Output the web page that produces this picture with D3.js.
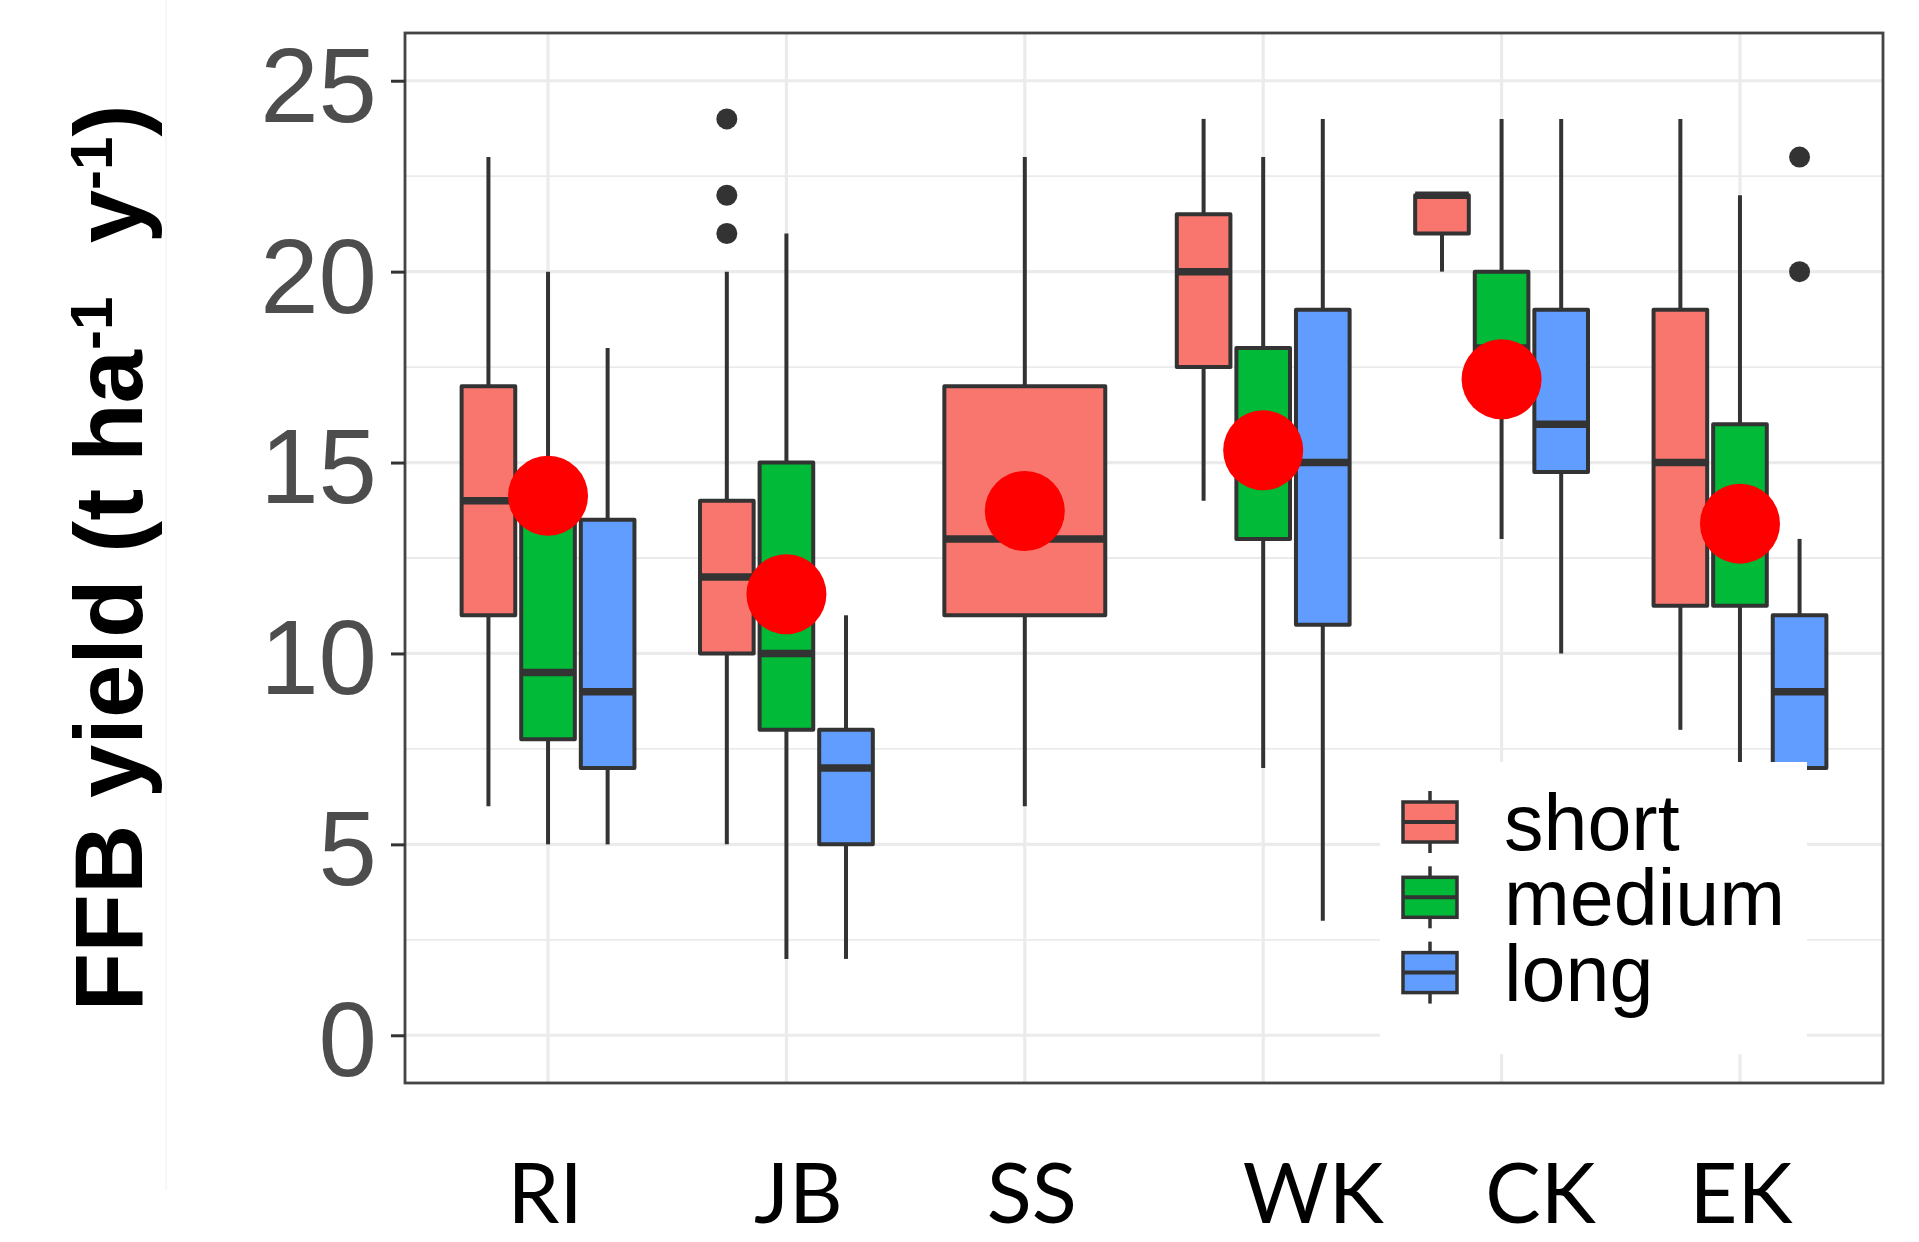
<!DOCTYPE html>
<html>
<head>
<meta charset="utf-8">
<script src="https://cdn.jsdelivr.net/npm/d3@7"></script>
<style>
  body { margin: 0; background: #fff; }
  svg { display: block; }
</style>
</head>
<body>
<div id="chart"></div>
<script>
// sites and rotation length groups
const categories = ["RI", "JB", "SS", "WK", "CK", "EK"];
const groups = ["short", "medium", "long"];
const groupColors = ["#F8766D", "#00BA38", "#619CFF"];

// box stats per site: [lower whisker, Q1, median, Q3, upper whisker], null = no data
const shortStats  = [[6, 11, 14, 17, 23], [5, 10, 12, 14, 20], [6, 11, 13, 17, 23], [14, 17.5, 20, 21.5, 24], [20, 21, 22, 22, 22], [8, 11.25, 15, 19, 24]];
const mediumStats = [[5, 7.75, 9.5, 14, 20], [2, 8, 10, 15, 21], null, [7, 13, 15, 18, 23], [13, 16.5, 18, 20, 24], [5, 11.25, 13, 16, 22]];
const longStats   = [[5, 7, 9, 13.5, 18], [2, 5, 7, 8, 11], null, [3, 10.75, 15, 19, 24], [10, 14.75, 16, 19, 24], [5, 7, 9, 11, 13]];

// outliers per site and group
const shortOutliers  = [[], [24, 22, 21], [], [], [], []];
const mediumOutliers = [[], [], [], [], [], []];
const longOutliers   = [[], [], [], [], [], [23, 20]];

// site mean (red dots)
const siteMeans = [14.13, 11.55, 13.73, 15.32, 17.18, 13.4];

const yTicks = [0, 5, 10, 15, 20, 25];
const yMinor = [2.5, 7.5, 12.5, 17.5, 22.5];

// x label nudges (px), labels were placed by hand in the original
const labelNudge = [-3, 12, 7, 50, 39, 1];

const statsBy = [shortStats, mediumStats, longStats];
const outBy = [shortOutliers, mediumOutliers, longOutliers];

const width = 1919, height = 1242;
const panel = { left: 405, right: 1883, top: 33, bottom: 1083 };
const ink = "#333";

const svg = d3.select("#chart").append("svg")
    .attr("width", width)
    .attr("height", height);

svg.append("rect").attr("width", width).attr("height", height).attr("fill", "#fff");

// faint edge of the pasted figure
svg.append("line")
    .attr("x1", 166).attr("x2", 166).attr("y1", 0).attr("y2", 1190)
    .attr("stroke", "#f4f4f4").attr("stroke-width", 1.5);

const x = d3.scalePoint().domain(categories).range([panel.left, panel.right]).padding(0.6);
const y = d3.scaleLinear().domain([-1.25, 26.25]).range([panel.bottom, panel.top]);
const step = x.step();

//grid
const grid = svg.append("g");
grid.selectAll(".minor").data(yMinor).enter().append("line")
    .attr("x1", panel.left).attr("x2", panel.right)
    .attr("y1", d => y(d)).attr("y2", d => y(d))
    .attr("stroke", "#EBEBEB").attr("stroke-width", 1.8);
grid.selectAll(".major").data(yTicks).enter().append("line")
    .attr("x1", panel.left).attr("x2", panel.right)
    .attr("y1", d => y(d)).attr("y2", d => y(d))
    .attr("stroke", "#EBEBEB").attr("stroke-width", 3.2);
grid.selectAll(".vmajor").data(categories).enter().append("line")
    .attr("x1", d => x(d)).attr("x2", d => x(d))
    .attr("y1", panel.top).attr("y2", panel.bottom)
    .attr("stroke", "#EBEBEB").attr("stroke-width", 3.2);

//build boxes with dodge2 positions
const boxes = [];
categories.forEach((c, ci) => {
    const present = groups.map((g, gi) => gi).filter(gi => statsBy[gi][ci]);
    const n = present.length;
    const slot = 0.75 * step / n;
    present.forEach((gi, k) => {
        const s = statsBy[gi][ci];
        boxes.push({
            cx: x(c) + (k - (n - 1) / 2) * slot,
            w: slot * 0.9,
            lo: s[0], q1: s[1], med: s[2], q3: s[3], hi: s[4],
            color: groupColors[gi],
            out: outBy[gi][ci]
        });
    });
});

const bx = svg.append("g").selectAll("g").data(boxes).enter().append("g");
bx.append("line")
    .attr("x1", d => d.cx).attr("x2", d => d.cx)
    .attr("y1", d => y(d.hi)).attr("y2", d => y(d.q3))
    .attr("stroke", ink).attr("stroke-width", 4);
bx.append("line")
    .attr("x1", d => d.cx).attr("x2", d => d.cx)
    .attr("y1", d => y(d.q1)).attr("y2", d => y(d.lo))
    .attr("stroke", ink).attr("stroke-width", 4);
bx.append("rect")
    .attr("x", d => d.cx - d.w / 2).attr("width", d => d.w)
    .attr("y", d => y(d.q3)).attr("height", d => y(d.q1) - y(d.q3))
    .attr("fill", d => d.color).attr("stroke", ink).attr("stroke-width", 4)
    .attr("stroke-linejoin", "round");
bx.append("line")
    .attr("x1", d => d.cx - d.w / 2).attr("x2", d => d.cx + d.w / 2)
    .attr("y1", d => y(d.med)).attr("y2", d => y(d.med))
    .attr("stroke", ink).attr("stroke-width", 7.5);
bx.selectAll("circle").data(d => d.out.map(v => ({ cx: d.cx, v: v }))).enter().append("circle")
    .attr("cx", d => d.cx).attr("cy", d => y(d.v)).attr("r", 10.5)
    .attr("fill", ink);

//means
svg.append("g").selectAll("circle").data(siteMeans).enter().append("circle")
    .attr("cx", (d, i) => x(categories[i]))
    .attr("cy", d => y(d))
    .attr("r", 40)
    .attr("fill", "#FF0000");

//panel border
svg.append("rect")
    .attr("x", panel.left).attr("y", panel.top)
    .attr("width", panel.right - panel.left).attr("height", panel.bottom - panel.top)
    .attr("fill", "none").attr("stroke", "#444").attr("stroke-width", 2.8);

//y axis
const yAxis = svg.append("g")
    .attr("transform", "translate(" + panel.left + ",0)")
    .call(d3.axisLeft(y).tickValues(yTicks).tickSize(14).tickPadding(14));
yAxis.select(".domain").remove();
yAxis.selectAll(".tick line").attr("stroke", ink).attr("stroke-width", 3);
yAxis.selectAll(".tick text")
    .attr("fill", "#4D4D4D")
    .attr("dy", "0.385em")
    .style("font-family", "'Liberation Sans', Arial, sans-serif")
    .style("font-size", "105px");

//y title
const title = svg.append("text")
    .attr("transform", "translate(142," + (panel.top + panel.bottom) / 2 + ") rotate(-90)")
    .attr("text-anchor", "middle")
    .attr("xml:space", "preserve")
    .style("white-space", "pre")
    .style("font-family", "'Liberation Sans', Arial, sans-serif")
    .style("font-weight", "bold")
    .style("font-size", "96px")
    .attr("fill", "#000");
title.append("tspan").text("FFB yield (t ha");
title.append("tspan").attr("dy", -30).style("font-size", "60px").text("-1");
title.append("tspan").attr("dy", 30).text("  y");
title.append("tspan").attr("dy", -30).style("font-size", "60px").text("-1");
title.append("tspan").attr("dy", 30).text(")");

//x labels
svg.append("g").selectAll("text").data(categories).enter().append("text")
    .attr("x", (d, i) => x(d) + labelNudge[i])
    .attr("y", 1223)
    .attr("text-anchor", "middle")
    .style("font-family", "Lato, 'Open Sans', sans-serif")
    .style("font-size", "83px")
    .attr("fill", "#000")
    .text(d => d);

//legend
const legend = svg.append("g");
legend.append("rect")
    .attr("x", 1380).attr("y", 762).attr("width", 427).attr("height", 292)
    .attr("fill", "#fff");
const rows = legend.selectAll(".row").data(groups).enter().append("g")
    .attr("transform", (d, i) => "translate(1430," + (822 + i * 75.3) + ")");
rows.append("line").attr("x1", 0).attr("x2", 0).attr("y1", -31).attr("y2", 31)
    .attr("stroke", ink).attr("stroke-width", 3.5);
rows.append("rect").attr("x", -27).attr("y", -20).attr("width", 54).attr("height", 40)
    .attr("fill", (d, i) => groupColors[i]).attr("stroke", ink).attr("stroke-width", 3.5);
rows.append("line").attr("x1", -27).attr("x2", 27).attr("y1", 0).attr("y2", 0)
    .attr("stroke", ink).attr("stroke-width", 4);
rows.append("text")
    .attr("x", 74).attr("y", 28)
    .style("font-family", "'Liberation Sans', Arial, sans-serif")
    .style("font-size", "79px")
    .attr("fill", "#000")
    .text(d => d);
</script>
</body>
</html>
